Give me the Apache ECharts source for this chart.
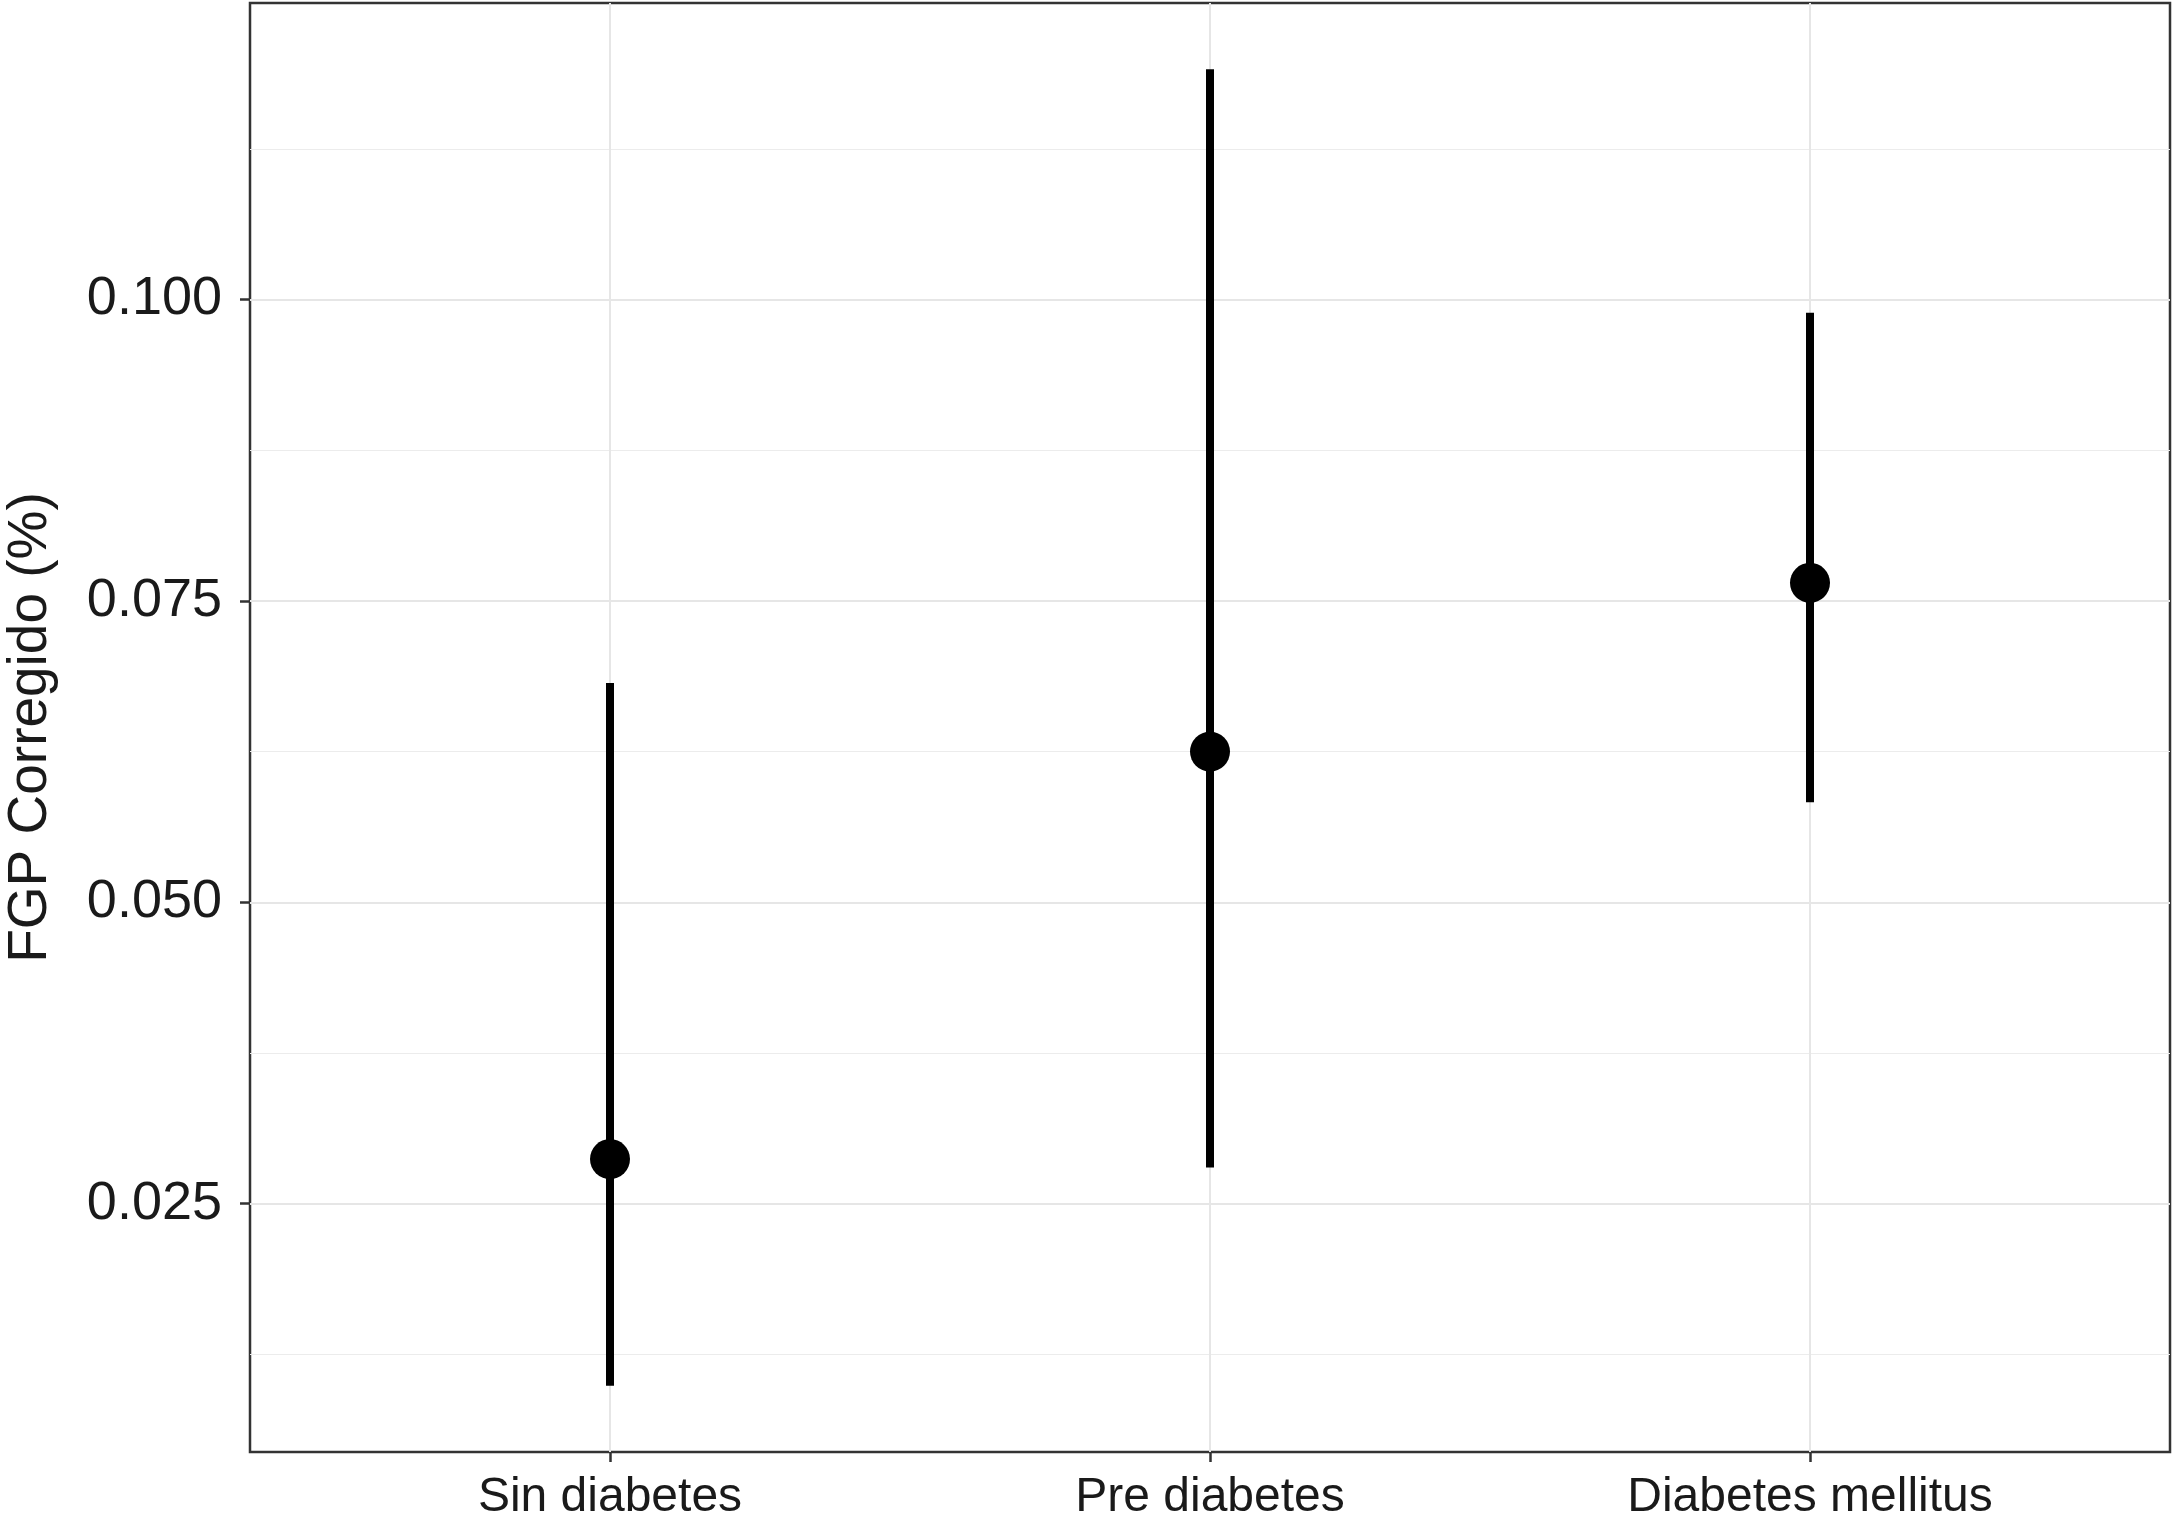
<!DOCTYPE html>
<html>
<head>
<meta charset="utf-8">
<script src="https://cdn.jsdelivr.net/npm/echarts@6/dist/echarts.min.js"></script>
<style>
html,body{margin:0;padding:0;background:#fff;}
#chart{width:2174px;height:1533px;}
</style>
</head>
<body>
<div id="chart"></div>
<script>
// Data
var categories = ['Sin diabetes', 'Pre diabetes', 'Diabetes mellitus'];
var estimate = [0.0287, 0.0625, 0.0765];
var lower = [0.0099, 0.0280, 0.0583];
var upper = [0.0682, 0.1191, 0.0989];
var yTicks = [0.025, 0.050, 0.075, 0.100];
var yMinorTicks = [0.0125, 0.0375, 0.0625, 0.0875, 0.1125];
var xPositions = [1, 2, 3];

var FONT = '"Liberation Sans", Arial, Helvetica, sans-serif';
var chart = echarts.init(document.getElementById('chart'), null, {renderer: 'canvas'});

var barData = xPositions.map(function (x, i) { return [x, lower[i], upper[i]]; });
var pointData = xPositions.map(function (x, i) { return [x, estimate[i]]; });

chart.setOption({
  animation: false,
  backgroundColor: '#ffffff',
  grid: {
    left: 250, right: 4, top: 3, bottom: 81,
    outerBoundsMode: 'none',
    containLabel: false,
    show: true, borderColor: '#333333', borderWidth: 2.5, backgroundColor: 'transparent'
  },
  xAxis: {
    type: 'value', min: 0.4, max: 3.6,
    axisLine: {show: false},
    axisTick: {show: true, customValues: xPositions, length: 10, lineStyle: {color: '#333333', width: 2.5}},
    axisLabel: {
      show: true, customValues: xPositions, margin: 22,
      fontFamily: FONT, fontSize: 48, color: '#1a1a1a',
      formatter: function (v) { return categories[Math.round(v) - 1] || ''; }
    },
    splitLine: {show: true, lineStyle: {color: '#e6e6e6', width: 2}}
  },
  yAxis: [{
    type: 'value', min: 0.0044, max: 0.1246,
    name: 'FGP Corregido (%)', nameLocation: 'middle', nameGap: 192, nameRotate: 90,
    nameTextStyle: {fontFamily: FONT, fontSize: 55, color: '#1a1a1a'},
    axisLine: {show: false},
    axisTick: {show: true, customValues: yTicks, length: 10, lineStyle: {color: '#333333', width: 2.5}},
    axisLabel: {
      show: true, customValues: yTicks, margin: 28,
      fontFamily: FONT, fontSize: 54, color: '#1a1a1a',
      formatter: function (v) { return v.toFixed(3); }
    },
    splitLine: {show: true, lineStyle: {color: '#e6e6e6', width: 2}}
  }, {
    type: 'value', min: 0.0044, max: 0.1246, position: 'left',
    axisLine: {show: false},
    axisTick: {show: false, customValues: yMinorTicks},
    axisLabel: {show: false},
    splitLine: {show: true, lineStyle: {color: '#ececec', width: 1.2}}
  }],
  series: [{
    type: 'custom',
    yAxisIndex: 0,
    data: barData,
    z: 3,
    renderItem: function (params, api) {
      var x = api.value(0);
      var p1 = api.coord([x, api.value(1)]);
      var p2 = api.coord([x, api.value(2)]);
      return {
        type: 'line',
        shape: {x1: p1[0], y1: p1[1], x2: p2[0], y2: p2[1]},
        style: {stroke: '#000000', lineWidth: 8}
      };
    }
  }, {
    type: 'scatter',
    yAxisIndex: 0,
    data: pointData,
    symbol: 'circle',
    symbolSize: 40,
    itemStyle: {color: '#000000', opacity: 1},
    z: 4
  }]
});
</script>
</body>
</html>
